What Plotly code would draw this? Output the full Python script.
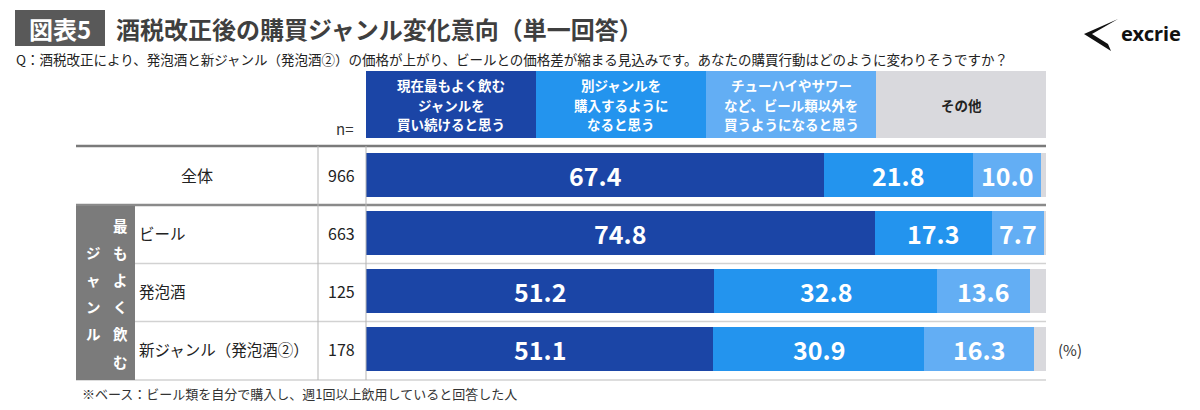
import plotly.graph_objects as go

# ---------------- data ----------------
row_labels = ["全体", "ビール", "発泡酒", "新ジャンル（発泡酒②）"]
n_values = [966, 663, 125, 178]
series_names = ["現在最もよく飲む<br>ジャンルを<br>買い続けると思う",
                "別ジャンルを<br>購入するように<br>なると思う",
                "チューハイやサワー<br>など、ビール類以外を<br>買うようになると思う",
                "その他"]
keep_same = [67.4, 74.8, 51.2, 51.1]
other_genre = [21.8, 17.3, 32.8, 30.9]
non_beer = [10.0, 7.7, 13.6, 16.3]
others = [0.8, 0.2, 2.4, 1.7]
series_values = [keep_same, other_genre, non_beer, others]
series_colors = ["#1B45A6", "#2394EE", "#63AEF4", "#D9D9DD"]
header_text_colors = ["white", "white", "white", "#222222"]
labeled_series = 3  # value labels on the first three series

title_tag = "図表5"
title = "酒税改正後の購買ジャンル変化意向（単一回答）"
question = "Q：酒税改正により、発泡酒と新ジャンル（発泡酒②）の価格が上がり、ビールとの価格差が縮まる見込みです。あなたの購買行動はどのように変わりそうですか？"
footnote = "※ベース：ビール類を自分で購入し、週1回以上飲用していると回答した人"
side_col_right = list("最もよく飲む")
side_col_left = list("ジャンル")

W, H = 1200, 410
FONT = "Noto Sans CJK JP"


def px(x):
    return x / W


def py(y):
    return 1 - y / H


fig = go.Figure()
rows = list(range(len(row_labels)))
for vals, color in zip(series_values, series_colors):
    fig.add_trace(go.Bar(
        x=vals, y=rows, orientation="h",
        marker=dict(color=color, line=dict(width=0)),
        width=0.775, hoverinfo="skip", showlegend=False,
    ))

annotations = []
shapes = []

# value labels at segment centres
for r in rows:
    cum = 0.0
    for s, vals in enumerate(series_values):
        v = vals[r]
        if s < labeled_series:
            annotations.append(dict(
                x=cum + v / 2, y=r, xref="x", yref="y", text=f"<b>{v:.1f}</b>",
                showarrow=False, font=dict(size=25, color="white", family=FONT),
                xanchor="center", yanchor="middle"))
        cum += v

# header boxes (quarters of the 0-100 axis)
hdr_top, hdr_bot = 71, 138
for i, (name, col, tcol) in enumerate(zip(series_names, series_colors, header_text_colors)):
    x0, x1 = i * 25, (i + 1) * 25
    shapes.append(dict(type="rect", xref="x", yref="paper", x0=x0, x1=x1,
                       y0=py(hdr_bot), y1=py(hdr_top), fillcolor=col,
                       line=dict(width=0), layer="below"))
    lines = name.split("<br>")
    n = len(lines)
    centre = (hdr_top + hdr_bot) / 2
    for k, ln in enumerate(lines):
        yy = centre + (k - (n - 1) / 2) * 19.5
        annotations.append(dict(
            x=(x0 + x1) / 2, y=py(yy), xref="x", yref="paper", text=f"<b>{ln}</b>",
            showarrow=False, font=dict(size=13.5, color=tcol, family=FONT),
            xanchor="center", yanchor="middle"))

annotations.append(dict(x=px(344), y=py(128), xref="paper", yref="paper", text="n=",
                        showarrow=False, font=dict(size=15, color="#333", family=FONT),
                        xanchor="center", yanchor="middle"))

# table lines
L, R = 76, 1046
shapes += [
    dict(type="line", xref="paper", yref="paper", x0=px(L), x1=px(R), y0=py(146), y1=py(146),
         line=dict(color="#7a7a7a", width=2.5)),
    dict(type="line", xref="paper", yref="paper", x0=px(L), x1=px(R), y0=py(205), y1=py(205),
         line=dict(color="#8a8a8a", width=2.5)),
    dict(type="line", xref="paper", yref="paper", x0=px(135), x1=px(R), y0=py(263.5), y1=py(263.5),
         line=dict(color="#d2d2d2", width=1.5)),
    dict(type="line", xref="paper", yref="paper", x0=px(135), x1=px(R), y0=py(321.5), y1=py(321.5),
         line=dict(color="#d2d2d2", width=1.5)),
    dict(type="line", xref="paper", yref="paper", x0=px(L), x1=px(R), y0=py(380), y1=py(380),
         line=dict(color="#d2d2d2", width=1.5)),
    dict(type="line", xref="paper", yref="paper", x0=px(318), x1=px(318), y0=py(380), y1=py(146),
         line=dict(color="#b5b5b5", width=1)),
    dict(type="line", xref="paper", yref="paper", x0=px(366), x1=px(366), y0=py(380), y1=py(146),
         line=dict(color="#b5b5b5", width=1)),
    dict(type="rect", xref="paper", yref="paper", x0=px(76), x1=px(135), y0=py(380), y1=py(206),
         fillcolor="#7b7b7b", line=dict(width=0)),
]

# side vertical text
for k, ch in enumerate(side_col_right):
    annotations.append(dict(x=px(120), y=py(225 + k * 27.2), xref="paper", yref="paper",
                            text=f"<b>{ch}</b>", showarrow=False,
                            font=dict(size=14.5, color="white", family=FONT),
                            xanchor="center", yanchor="middle"))
for k, ch in enumerate(side_col_left):
    annotations.append(dict(x=px(93), y=py(252 + k * 27.2), xref="paper", yref="paper",
                            text=f"<b>{ch}</b>", showarrow=False,
                            font=dict(size=14.5, color="white", family=FONT),
                            xanchor="center", yanchor="middle"))

# row labels and n
for r, (lab, n) in enumerate(zip(row_labels, n_values)):
    if r == 0:
        annotations.append(dict(x=px(197), y=r, xref="paper", yref="y", text=lab,
                                showarrow=False, font=dict(size=16, color="#222", family=FONT),
                                xanchor="center", yanchor="middle"))
    else:
        annotations.append(dict(x=px(137), y=r, xref="paper", yref="y", text=lab,
                                showarrow=False, font=dict(size=15.5, color="#222", family=FONT),
                                xanchor="left", yanchor="middle"))
    annotations.append(dict(x=px(341), y=r, xref="paper", yref="y", text=str(n),
                            showarrow=False, font=dict(size=16, color="#222", family=FONT),
                            xanchor="center", yanchor="middle"))

annotations.append(dict(x=px(1056), y=3, xref="paper", yref="y", text="(%)",
                        showarrow=False, font=dict(size=15, color="#333", family=FONT),
                        xanchor="left", yanchor="middle"))

# title block
shapes.append(dict(type="rect", xref="paper", yref="paper", x0=px(15), x1=px(105),
                   y0=py(46), y1=py(10), fillcolor="#595959", line=dict(width=0)))
annotations.append(dict(x=px(60), y=py(28), xref="paper", yref="paper", text=f"<b>{title_tag}</b>",
                        showarrow=False, font=dict(size=24, color="white", family=FONT),
                        xanchor="center", yanchor="middle"))
annotations.append(dict(x=px(114), y=py(28), xref="paper", yref="paper", text=f"<b>{title}</b>",
                        showarrow=False, font=dict(size=24, color="#3f3f3f", family=FONT),
                        xanchor="left", yanchor="middle"))
annotations.append(dict(x=px(14), y=py(59), xref="paper", yref="paper", text=question,
                        showarrow=False, font=dict(size=13.5, color="#222", family=FONT),
                        xanchor="left", yanchor="middle"))
annotations.append(dict(x=px(80), y=py(393), xref="paper", yref="paper", text=footnote,
                        showarrow=False, font=dict(size=13, color="#333", family=FONT),
                        xanchor="left", yanchor="middle"))

# logo
def path_px(points):
    d = "M " + " L ".join(f"{px(x):.5f},{py(y):.5f}" for x, y in points) + " Z"
    return d

shapes.append(dict(type="path", xref="paper", yref="paper",
                   path=path_px([(1118, 19), (1084, 34), (1111, 51), (1108, 44), (1092, 34)]),
                   fillcolor="#111", line=dict(width=0)))
annotations.append(dict(x=px(1119), y=py(34), xref="paper", yref="paper", text="<b>excrie</b>",
                        showarrow=False, font=dict(size=20, color="#111", family="Noto Sans"),
                        xanchor="left", yanchor="middle"))

fig.update_layout(
    width=W, height=H, margin=dict(l=0, r=0, t=0, b=0),
    paper_bgcolor="white", plot_bgcolor="white",
    barmode="stack", bargap=0, showlegend=False,
    font=dict(family=FONT),
    xaxis=dict(domain=[px(366), px(1046)], range=[0, 100], visible=False, fixedrange=True),
    yaxis=dict(domain=[py(378), py(146)], range=[3.5, -0.5], visible=False, fixedrange=True),
    annotations=annotations, shapes=shapes,
)

fig.write_html("out.html")
